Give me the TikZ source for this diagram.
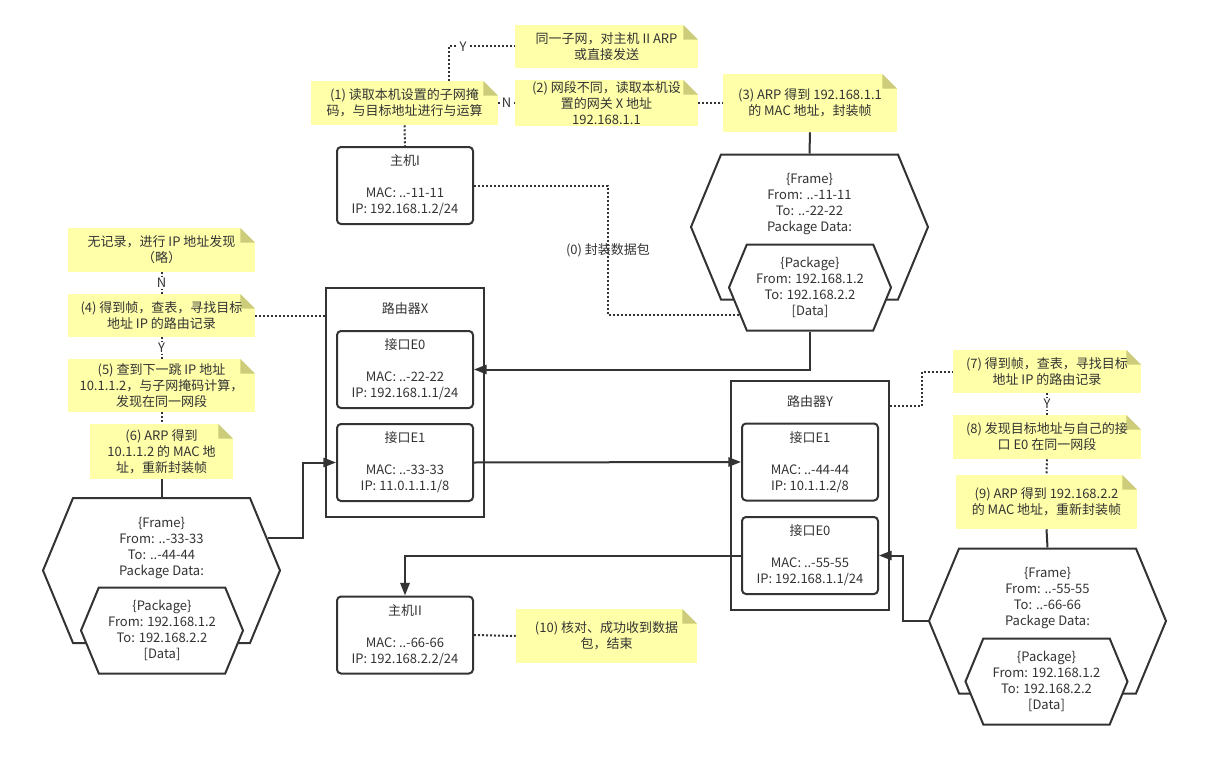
\documentclass[tikz,border=0pt]{standalone}
\usepackage{fontspec}
\setmainfont{Noto Sans CJK SC}
\usepackage{tikz}
\usetikzlibrary{calc,positioning,shapes.symbols,arrows.meta}
\definecolor{linegray}{HTML}{333333}
\definecolor{noteyellow}{HTML}{FFFFAA}
\definecolor{notefold}{HTML}{CCCC7A}

\begin{document}
\begin{tikzpicture}[x=0.75pt,y=0.75pt,
      every node/.style={font=\fontsize{9.75pt}{12pt}\selectfont, text=linegray, align=center},
      note/.style={fill=noteyellow, inner sep=0pt, path picture={
          \fill[white] (path picture bounding box.north east) -- ++(-11pt,0pt) -- ++(11pt,-11pt) -- cycle;
          \fill[notefold] ($(path picture bounding box.north east)+(-11pt,0pt)$) -- ++(0pt,-11pt) -- ++(11pt,0pt) -- cycle;}},
      box/.style={draw=linegray, line width=1.5pt, rounded corners=3pt, inner sep=0pt,
          minimum width=102pt, minimum height=57.75pt},
      router/.style={draw=linegray, line width=1.5pt, minimum width=118.5pt, minimum height=171.75pt},
      frame/.style={signal, signal to=east and west, signal pointer angle=135, draw=linegray,
          line width=1.5pt, fill=white, inner sep=0pt, minimum width=177.75pt, minimum height=108.75pt},
      pkg/.style={frame, minimum width=121.5pt, minimum height=64.5pt},
      conn/.style={draw=linegray, line width=1.5pt},
      flow/.style={conn, -{Triangle[length=9.5pt,width=7pt]}},
      dots/.style={draw=linegray, line width=1.5pt, dash pattern=on 1.5pt off 1.5pt},
      yn/.style={fill=white, inner sep=1pt}]
    \useasboundingbox (0,0) rectangle (1207,-767);

    \node[note, minimum width=137.25pt, minimum height=32.25pt] (nY) at (606.5,-46.5) {同一子网，对主机 II ARP\\或直接发送};
    \node[note, minimum width=140.25pt, minimum height=33pt] (n1) at (404.5,-103) {(1) 读取本机设置的子网掩\\码，与目标地址进行与运算};
    \node[note, minimum width=137.25pt, minimum height=34.5pt] (n2) at (606.5,-103) {(2) 网段不同，读取本机设\\置的网关 X 地址\\192.168.1.1};
    \node[note, minimum width=130.5pt, minimum height=43.5pt] (n3) at (810,-103) {(3) ARP 得到 192.168.1.1\\的 MAC 地址，封装帧};
    \node[note, minimum width=140.25pt, minimum height=33pt] (nA) at (161.5,-250) {无记录，进行 IP 地址发现\\（略）};
    \node[note, minimum width=140.25pt, minimum height=32.25pt] (n4) at (161.5,-315.5) {(4) 得到帧，查表，寻找目标\\地址 IP 的路由记录};
    \node[note, minimum width=140.25pt, minimum height=39.75pt] (n5) at (161.5,-385.5) {(5) 查到下一跳 IP 地址\\10.1.1.2，与子网掩码计算，\\发现在同一网段};
    \node[note, minimum width=107.25pt, minimum height=41.25pt] (n6) at (161.5,-451.5) {(6) ARP 得到\\10.1.1.2 的 MAC 地\\址，重新封装帧};
    \node[note, minimum width=141pt, minimum height=32.25pt] (n7) at (1047,-371.5) {(7) 得到帧，查表，寻找目标\\地址 IP 的路由记录};
    \node[note, minimum width=141pt, minimum height=33pt] (n8) at (1047,-437) {(8) 发现目标地址与自己的接\\口 E0 在同一网段};
    \node[note, minimum width=135.75pt, minimum height=40.5pt] (n9) at (1046.5,-502) {(9) ARP 得到 192.168.2.2\\的 MAC 地址，重新封装帧};
    \node[note, minimum width=135.75pt, minimum height=40.5pt] (n10) at (606.5,-636) {(10) 核对、成功收到数据\\包，结束};

    \node[box] (host1) at (405,-185.5) {主机I\\[12pt]MAC: ..-11-11\\IP: 192.168.1.2/24};
    \node[box] (host2) at (405,-635) {主机II\\[12pt]MAC: ..-66-66\\IP: 192.168.2.2/24};

    \node[router, label={[anchor=north,yshift=-8pt]north:路由器X}] (rx) at (405,-402.5) {};
    \node[box] (xe0) at (405,-369.5) {接口E0\\[12pt]MAC: ..-22-22\\IP: 192.168.1.1/24};
    \node[box] (xe1) at (405,-462.5) {接口E1\\[12pt]MAC: ..-33-33\\IP: 11.0.1.1.1/8};

    \node[router, label={[anchor=north,yshift=-8pt]north:路由器Y}] (ry) at (810,-495.5) {};
    \node[box] (ye1) at (810,-462) {接口E1\\[12pt]MAC: ..-44-44\\IP: 10.1.1.2/8};
    \node[box] (ye0) at (810,-555.5) {接口E0\\[12pt]MAC: ..-55-55\\IP: 192.168.1.1/24};

    \node[frame] (f1) at (809.5,-227) {};
    \node (f1txt) at (809.5,-204) {\{Frame\}\\From: ..-11-11\\To: ..-22-22\\Package Data:};
    \node[pkg] (p1) at (810,-287.5) {\{Package\}\\From: 192.168.1.2\\To: 192.168.2.2\\{[Data]}};

    \node[frame] (f2) at (161.5,-570.5) {};
    \node (f2txt) at (161.5,-547.5) {\{Frame\}\\From: ..-33-33\\To: ..-44-44\\Package Data:};
    \node[pkg] (p2) at (162,-630.5) {\{Package\}\\From: 192.168.1.2\\To: 192.168.2.2\\{[Data]}};

    \node[frame] (f3) at (1047.5,-621) {};
    \node (f3txt) at (1047.5,-598) {\{Frame\}\\From: ..-55-55\\To: ..-66-66\\Package Data:};
    \node[pkg] (p3) at (1046.5,-681.5) {\{Package\}\\From: 192.168.1.2\\To: 192.168.2.2\\{[Data]}};

    \draw[dots] ($(n1.north)+(44,0)$) |- node[yn, pos=0.61] {Y} (nY.west);
    \draw[dots] (n1.east) -- node[yn] {N} (n2.west);
    \draw[dots] (n1.south) -- (host1.north);
    \draw[dots] (n2.east) -- (n3.west);
    \draw[conn] (n3.south) -- (f1.north);
    \draw[dots] (host1.east) -- ++(134,0) |- node[pos=0.25] {(0) 封装数据包} ($(p1.west)+(11.4,-27.5)$);
    \draw[flow] (p1.south) |- (xe0.east);
    \draw[flow] (xe1.east) -- (ye1.west);
    \draw[flow] ($(f2.east)+(-13.5,32.5)$) -- ++(35,0) |- (xe1.west);
    \draw[flow] (f3.west) -- ++(-25,0) |- (ye0.east);
    \draw[flow] (ye0.west) -| (host2.north);
    \draw[dots] (host2.east) -- (n10.west);

    \draw[dots] (nA.south) -- node[yn] {N} (n4.north);
    \draw[dots] (n4.south) -- node[yn] {Y} (n5.north);
    \draw[dots] (n5.south) -- (n6.north);
    \draw[conn] (n6.south) -- (f2.north);
    \draw[dots] (n4.east) -- (n4.east -| rx.west);

    \draw[dots] ([yshift=-19.5pt]ry.north east) -- ++(32,0) |- (n7.west);
    \draw[dots] (n7.south) -- node[yn] {Y} (n8.north);
    \draw[dots] (n8.south) -- (n9.north);
    \draw[conn] (n9.south) -- (f3.north);
  \end{tikzpicture}
\end{document}
